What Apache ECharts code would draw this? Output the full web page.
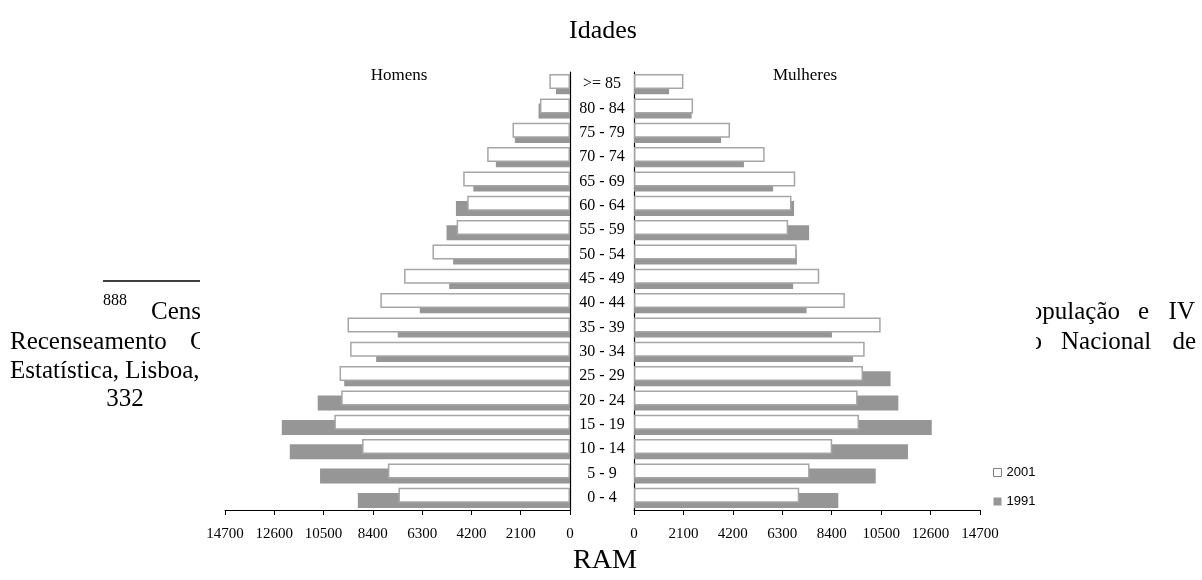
<!DOCTYPE html>
<html>
<head>
<meta charset="utf-8">
<title>Idades – RAM</title>
<script src="https://cdn.jsdelivr.net/npm/echarts@6/dist/echarts.min.js"></script>
<style>
  html, body { margin: 0; padding: 0; background: #ffffff; }
  #chart { width: 1202px; height: 580px; }
</style>
</head>
<body>
<div id="chart"></div>
<script>
// Age groups, youngest at the bottom of the pyramid
const ageGroups = ['0 - 4', '5 - 9', '10 - 14', '15 - 19', '20 - 24', '25 - 29', '30 - 34',
  '35 - 39', '40 - 44', '45 - 49', '50 - 54', '55 - 59', '60 - 64', '65 - 69',
  '70 - 74', '75 - 79', '80 - 84', '>= 85'];

// Men (Homens) per age group
const men2001 = [7310, 7760, 8860, 10040, 9750, 9820, 9370, 9480, 8080, 7070, 5860, 4830, 4380, 4550, 3530, 2450, 1280, 880];
const men1991 = [9040, 10650, 11940, 12280, 10750, 9620, 8260, 7340, 6400, 5150, 4980, 5260, 4860, 4120, 3160, 2350, 1340, 600];

// Women (Mulheres) per age group
const women2001 = [7020, 7460, 8420, 9560, 9500, 9730, 9800, 10480, 8960, 7870, 6910, 6550, 6690, 6850, 5550, 4080, 2510, 2100];
const women1991 = [8680, 10270, 11640, 12650, 11230, 10900, 9310, 8410, 7330, 6760, 6920, 7440, 6800, 5910, 4670, 3700, 2450, 1490];

// Value axis scale
const axisMax = 14700;
const axisStep = 2100;

const serif = 'Liberation Serif';
const sans = 'Liberation Sans';
const grayFill = '#969696';
const barBorder = '#a6a6a6';

const chart = echarts.init(document.getElementById('chart'));

const valueAxis = (gridIndex, inverse) => ({
  type: 'value',
  gridIndex: gridIndex,
  inverse: inverse,
  min: 0,
  max: axisMax,
  interval: axisStep,
  axisLine: { show: true, lineStyle: { color: '#000', width: 1 } },
  axisTick: { show: true, length: 5, lineStyle: { color: '#000' } },
  axisLabel: {
    color: '#000', fontFamily: serif, fontSize: 15, margin: 17,
    formatter: (v) => String(v)
  },
  splitLine: { show: false }
});

const barStyle2001 = { color: '#ffffff', borderColor: barBorder, borderWidth: 1.5 };
const barStyle1991 = { color: grayFill };

// Footnote text helper (text positioned by its vertical middle)
const noteFont = '25px "Liberation Serif"';
const note = (text, x, y, align) => ({
  type: 'text', z: -20, x: x, y: y,
  style: { text: text, fill: '#000', font: noteFont, align: align || 'left', verticalAlign: 'middle' }
});

const option = {
  animation: false,
  backgroundColor: 'transparent',
  textStyle: { fontFamily: serif },
  grid: [
    { left: 225, right: 632, top: 72, bottom: 70 },
    { left: 634, right: 222, top: 72, bottom: 70 }
  ],
  xAxis: [valueAxis(0, true), valueAxis(1, false)],
  yAxis: [
    {
      type: 'category', gridIndex: 0, position: 'right', data: ageGroups,
      axisLine: { show: true, lineStyle: { color: '#000', width: 1.2 } },
      axisTick: { show: false },
      axisLabel: { color: '#000', fontFamily: serif, fontSize: 16, align: 'center', margin: 32 }
    },
    {
      type: 'category', gridIndex: 1, position: 'left', data: ageGroups,
      axisLine: { show: true, lineStyle: { color: '#000', width: 1.2 } },
      axisTick: { show: false },
      axisLabel: { show: false }
    }
  ],
  legend: {
    orient: 'vertical',
    left: 988,
    top: 461,
    itemWidth: 8,
    itemHeight: 8,
    itemGap: 16,
    textStyle: { color: '#000', fontFamily: sans, fontSize: 13 },
    data: [
      { name: '2001', icon: 'rect', itemStyle: { color: '#ffffff', borderColor: '#808080', borderWidth: 1 } },
      { name: '1991', icon: 'rect', itemStyle: { color: grayFill } }
    ]
  },
  series: [
    { name: '2001', type: 'bar', xAxisIndex: 0, yAxisIndex: 0, data: men2001,
      barWidth: 15, barGap: '-66%', z: 3, itemStyle: barStyle2001 },
    { name: '1991', type: 'bar', xAxisIndex: 0, yAxisIndex: 0, data: men1991,
      barWidth: 15, barGap: '-66%', z: 2, itemStyle: barStyle1991 },
    { name: '2001', type: 'bar', xAxisIndex: 1, yAxisIndex: 1, data: women2001,
      barWidth: 15, barGap: '-66%', z: 3, itemStyle: barStyle2001 },
    { name: '1991', type: 'bar', xAxisIndex: 1, yAxisIndex: 1, data: women1991,
      barWidth: 15, barGap: '-66%', z: 2, itemStyle: barStyle1991 }
  ],
  graphic: [
    // Page footnote running behind the figure
    { type: 'line', z: -20, shape: { x1: 103, y1: 281, x2: 210, y2: 281 }, style: { stroke: '#000', lineWidth: 1.5 } },
    { type: 'text', z: -20, x: 103, y: 301, style: { text: '888', fill: '#000', font: '16px "Liberation Serif"', verticalAlign: 'middle' } },
    note('Censos', 151, 312),
    note('População', 1120, 312, 'right'),
    note('e', 1138, 312),
    note('IV', 1195, 312, 'right'),
    note('Recenseamento', 10, 342),
    note('Geral', 190, 342),
    note('Instituto', 1042, 342, 'right'),
    note('Nacional', 1061, 342),
    note('de', 1196, 342, 'right'),
    note('Estatística, Lisboa,', 10, 371),
    note('332', 125, 399, 'center'),
    // White figure area
    { type: 'rect', z: -10, shape: { x: 200, y: 0, width: 836, height: 580 }, style: { fill: '#ffffff' } },
    // Figure titles
    { type: 'text', z: 10, x: 603, y: 31, style: { text: 'Idades', fill: '#000', font: '26px "Liberation Serif"', align: 'center', verticalAlign: 'middle' } },
    { type: 'text', z: 10, x: 605, y: 561, style: { text: 'RAM', fill: '#000', font: '28px "Liberation Serif"', align: 'center', verticalAlign: 'middle' } },
    { type: 'text', z: 10, x: 399, y: 76, style: { text: 'Homens', fill: '#000', font: '17px "Liberation Serif"', align: 'center', verticalAlign: 'middle' } },
    { type: 'text', z: 10, x: 805, y: 76, style: { text: 'Mulheres', fill: '#000', font: '17px "Liberation Serif"', align: 'center', verticalAlign: 'middle' } }
  ]
};

chart.setOption(option);
</script>
</body>
</html>
